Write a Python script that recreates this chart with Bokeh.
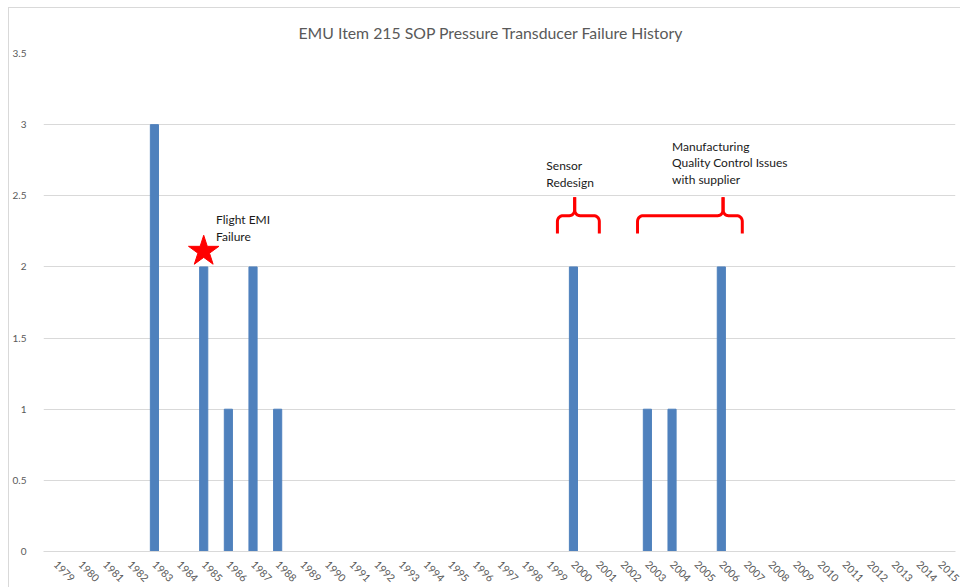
import math
import numpy as np
from bokeh.plotting import figure
from bokeh.models import Range1d, FixedTicker, Label
from bokeh.embed import file_html
from bokeh.resources import INLINE

years = list(range(1979, 2016))
failures = [0, 0, 0, 0, 3, 0, 2, 1, 2, 1, 0, 0, 0, 0, 0, 0, 0, 0, 0, 0, 0, 2, 0, 0, 1, 1, 0, 2,
            0, 0, 0, 0, 0, 0, 0, 0, 0]
y_ticks = [0, 0.5, 1, 1.5, 2, 2.5, 3, 3.5]
y_tick_labels = ["0", "0.5", "1", "1.5", "2", "2.5", "3", "3.5"]

title_text = "EMU Item 215 SOP Pressure Transducer Failure History"
star_year, star_value = 1985, 2.11
notes = [  # (text, year, value)
    ("Flight EMI\nFailure", 1985.5, 2.385),
    ("Sensor\nRedesign", 1998.9, 2.765),
    ("Manufacturing\nQuality Control Issues\nwith supplier", 2004.0, 2.9),
]
braces = [  # (left year, right year, tip year)
    (1999.35, 2001.05, 2000.05),
    (2002.6, 2006.85, 2006.07),
]
brace_low, brace_mid, brace_tip = 2.235, 2.36, 2.49

GREY = "#595959"
GRID = "#D9D9D9"

p = figure(width=952, height=580, output_backend="svg", toolbar_location=None,
           x_range=Range1d(1978.5, 2015.5), y_range=Range1d(0, 3.5),
           min_border_left=31, min_border_right=6, min_border_top=45,
           min_border_bottom=37)
p.outline_line_color = None
p.background_fill_color = "white"
p.border_fill_color = "white"
p.styles = {"margin-left": "8px", "margin-top": "7px",
            "border-left": "1px solid #D9D9D9", "border-top": "1px solid #D9D9D9"}

p.title.text = title_text
p.title.align = "left"
p.title.offset = 255
p.title.text_font = "Lato"
p.title.text_font_size = "15.8px"
p.title.text_font_style = "normal"
p.title.text_color = GREY
p.title.standoff = 23

p.vbar(x=years, top=failures, width=0.33, color="#4F81BD")

p.xgrid.grid_line_color = None
p.ygrid.ticker = FixedTicker(ticks=y_ticks)
p.ygrid.grid_line_color = GRID

p.yaxis.ticker = FixedTicker(ticks=y_ticks)
p.yaxis.major_label_overrides = {t: l for t, l in zip(y_ticks, y_tick_labels)}
p.yaxis.axis_line_color = None
p.yaxis.major_tick_line_color = None
p.yaxis.minor_tick_line_color = None
p.yaxis.major_label_standoff = 11
p.yaxis.major_label_text_font = "Lato"
p.yaxis.major_label_text_font_size = "10px"
p.yaxis.major_label_text_color = GREY

p.xaxis.ticker = FixedTicker(ticks=years)
p.xaxis.axis_line_color = GRID
p.xaxis.major_tick_line_color = None
p.xaxis.minor_tick_line_color = None
p.xaxis.major_label_orientation = -math.pi / 4
p.xaxis.major_label_standoff = 5
p.xaxis.major_label_text_font = "Lato"
p.xaxis.major_label_text_font_size = "10.5px"
p.xaxis.major_label_text_color = GREY

p.scatter(x=[star_year], y=[star_value], marker="star", size=32, color="#FF0000")

for txt, xx, yy in notes:
    p.add_layout(Label(x=xx, y=yy, text=txt, text_align="left", text_baseline="top",
                       text_font="Lato", text_font_size="12px", text_color="#1a1a1a",
                       text_line_height=1.1))

# brace paths
rx, ry = 0.22, 0.04
def arc(cx, cy, a0, a1, n=8):
    t = np.linspace(a0, a1, n)
    return list(cx + rx * np.cos(t)), list(cy + ry * np.sin(t))

for x0, x1, xt in braces:
    xs, ys = [x0], [brace_low]
    ax, ay = arc(x0 + rx, brace_mid - ry, math.pi, math.pi / 2)
    xs += ax; ys += ay
    ax, ay = arc(xt - rx, brace_mid + ry, -math.pi / 2, 0)
    xs += ax; ys += ay
    xs += [xt]; ys += [brace_tip]
    p.line(xs, ys, line_color="#FF0000", line_width=3)
    xs, ys = [xt], [brace_tip]
    ax, ay = arc(xt + rx, brace_mid + ry, math.pi, 3 * math.pi / 2)
    xs += ax; ys += ay
    ax, ay = arc(x1 - rx, brace_mid - ry, math.pi / 2, 0)
    xs += ax; ys += ay
    xs += [x1]; ys += [brace_low]
    p.line(xs, ys, line_color="#FF0000", line_width=3)

open("out.html", "w").write(file_html(p, INLINE))
